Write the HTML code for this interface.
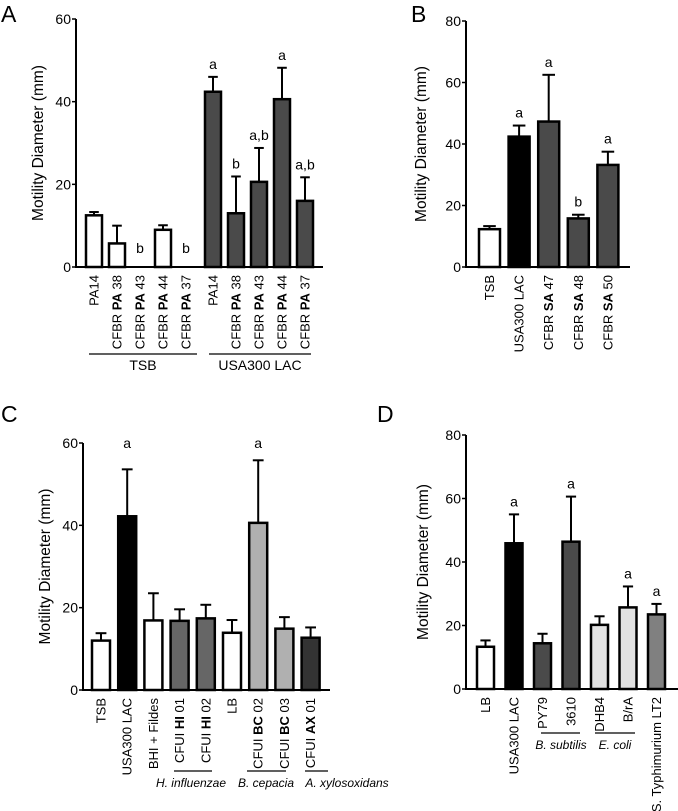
<!DOCTYPE html>
<html><head><meta charset="utf-8"><style>
html,body{margin:0;padding:0;background:#fff;}
svg{display:block;font-family:"Liberation Sans",Arial,sans-serif;}
</style></head><body>
<svg id="fig" width="678" height="811" viewBox="0 0 678 811" xmlns="http://www.w3.org/2000/svg"></svg>
<script>
// ---- Panel A data
const aCategories = [["PA14","",""],["CFBR ","PA"," 38"],["CFBR ","PA"," 43"],["CFBR ","PA"," 44"],["CFBR ","PA"," 37"],["PA14","",""],["CFBR ","PA"," 38"],["CFBR ","PA"," 43"],["CFBR ","PA"," 44"],["CFBR ","PA"," 37"]];
const aValues = [12.5,5.7,0,9,0,42.4,13,20.6,40.6,16];
const aErrors = [0.8,4.3,0,1.1,0,3.6,8.9,8.2,7.6,5.7];
const aLetters = ["","","b","","b","a","b","a,b","a","a,b"];
const aTicks = [0,20,40,60];
// ---- Panel B data
const bCategories = [["TSB","",""],["USA300 LAC","",""],["CFBR ","SA"," 47"],["CFBR ","SA"," 48"],["CFBR ","SA"," 50"]];
const bValues = [12.3,42.4,47.3,15.8,33.2];
const bErrors = [1,3.6,15.2,1.2,4.3];
const bLetters = ["","a","a","b","a"];
const bTicks = [0,20,40,60,80];
// ---- Panel C data
const cCategories = [["TSB","",""],["USA300 LAC","",""],["BHI + Fildes","",""],["CFUI ","HI"," 01"],["CFUI ","HI"," 02"],["LB","",""],["CFUI ","BC"," 02"],["CFUI ","BC"," 03"],["CFUI ","AX"," 01"]];
const cValues = [12,42.2,16.9,16.8,17.4,13.9,40.6,14.9,12.7];
const cErrors = [1.8,11.4,6.6,2.8,3.3,3.1,15.2,2.8,2.5];
const cLetters = ["","a","","","","","a","",""];
const cTicks = [0,20,40,60];
// ---- Panel D data
const dCategories = [["LB","",""],["USA300 LAC","",""],["PY79","",""],["3610","",""],["DHB4","",""],["B/rA","",""],["S. Typhimurium LT2","",""]];
const dValues = [13.3,45.9,14.4,46.4,20.2,25.7,23.5];
const dErrors = [2,9.1,3,14.2,2.7,6.6,3.3];
const dLetters = ["","a","","a","","a","a"];
const dTicks = [0,20,40,60,80];

const NS="http://www.w3.org/2000/svg";
const svg=document.getElementById('fig');
function mk(tag,attrs,parent){const e=document.createElementNS(NS,tag);for(const k in attrs)e.setAttribute(k,attrs[k]);(parent||svg).appendChild(e);return e;}

function panel(o){
  const g=mk('g',{});
  
  
  const ys=v=>o.y0-(v/o.ymax)*(o.y0-o.yTop);
  const xs=i=>o.x0+i*o.step+(o.groupOf?o.groupOf[i]*o.gap:0);
  const L=mk('text',{x:o.lx,y:o.ly,'font-size':23},g);L.textContent=o.id;
   
  const yt=mk('text',{x:0,y:0,'font-size':15.5,'text-anchor':'middle',transform:`translate(${o.tx},${(o.y0+o.yTop)/2}) rotate(-90)`},g);
  yt.textContent='Motility Diameter (mm)';
   
  o.values.forEach((v,i)=>{
    const x=xs(i), y=ys(v), c=x+o.bw/2;
    if(v>0){
      const ey=ys(v+o.errors[i]);
      const el=mk('line',{x1:c,x2:c,y1:y,y2:ey,stroke:'#000','stroke-width':2},g);
       
      const cap=mk('line',{x1:c-o.bw*0.3,x2:c+o.bw*0.3,y1:ey,y2:ey,stroke:'#000','stroke-width':2},g);
       
      const r=mk('rect',{x:x,y:y,width:o.bw,height:o.y0-y,fill:o.colors[i],stroke:'#000','stroke-width':2.5},g);
       
    }
    if(o.letters[i]){
      const ly = o.letterTop ? o.yTop+5 : (v>0? ys(v+o.errors[i])-8 : o.y0-14);
      const t=mk('text',{x:c,y:ly,'font-size':14,'text-anchor':'middle'},g);t.textContent=o.letters[i];
       
    }
    const cat=o.cats[i];
    const t=mk('text',{x:0,y:0,'font-size':13,'text-anchor':'end',transform:`translate(${c+4.5},${o.y0+8}) rotate(-90)`},g);
     
    const s1=mk('tspan',{},t);s1.textContent=cat[0];
    if(cat[1]){const s2=mk('tspan',{'font-weight':'bold'},t);s2.textContent=cat[1];}
    if(cat[2]){const s3=mk('tspan',{},t);s3.textContent=cat[2];}
  });
  const ya=mk('line',{x1:o.xa,x2:o.xa,y1:o.yTop,y2:o.y0+1,stroke:'#000','stroke-width':2},g);
   
  const xa=mk('line',{x1:o.xa,x2:o.xe,y1:o.y0,y2:o.y0,stroke:'#000','stroke-width':2},g);
   
  o.ticks.forEach(tv=>{
    const y=ys(tv);
    mk('line',{x1:o.xa-4,x2:o.xa,y1:y,y2:y,stroke:'#000','stroke-width':1.5},g);
    const t=mk('text',{x:o.xa-5,y:y+5,'font-size':14,'text-anchor':'end'},g);t.textContent=tv;
     
  });
  (o.groups||[]).forEach(gr=>{
    const l=mk('line',{x1:gr[0],x2:gr[1],y1:gr[2],y2:gr[2],stroke:'#000','stroke-width':1.2},g);
     
    const t=mk('text',{x:gr[5]!==undefined?gr[5]:(gr[0]+gr[1])/2,y:gr[2]+16,'font-size':gr[4]?12:14,'text-anchor':'middle','font-style':gr[4]?'italic':'normal'},g);
    t.textContent=gr[3];
     
  });
}
const DK='#4a4a4a';
panel({id:'A',lx:1,ly:22,tx:43,y0:267,yTop:19,ymax:60,xa:76,xe:323,x0:86,step:23,bw:16,gap:4,
  groupOf:[0,0,0,0,0,1,1,1,1,1],cats:aCategories,values:aValues,errors:aErrors,letters:aLetters,ticks:aTicks,
  colors:['#fff','#fff','#fff','#fff','#fff',DK,DK,DK,DK,DK],
  groups:[[89,197,354,'TSB',false],[209,311,354,'USA300 LAC',false]]});
panel({id:'B',lx:411,ly:22,tx:426,y0:267,yTop:21,ymax:80,xa:466,xe:630,x0:479,step:29.6,bw:21,
  cats:bCategories,values:bValues,errors:bErrors,letters:bLetters,ticks:bTicks,
  colors:['#fff','#000',DK,DK,DK]});
panel({id:'C',lx:1,ly:422,tx:50,y0:690,yTop:443,ymax:60,xa:83,xe:330,x0:92,step:26.2,bw:18,
  cats:cCategories,values:cValues,errors:cErrors,letters:cLetters,ticks:cTicks,letterTop:true,
  colors:['#fff','#000','#fff','#666','#666','#fff','#b0b0b0','#b0b0b0','#333'],
  groups:[[174,212,771,'H. influenzae',true,191],[247,286,771,'B. cepacia',true,266],[305,328,771,'A. xylosoxidans',true,347]]});
panel({id:'D',lx:377,ly:422,tx:428,y0:689,yTop:435,ymax:80,xa:466,xe:678,x0:477,step:28.5,bw:17,
  cats:dCategories,values:dValues,errors:dErrors,letters:dLetters,ticks:dTicks,
  colors:['#fff','#000',DK,DK,'#e2e2e2','#e2e2e2','#808080'],
  groups:[[541,580,733,'B. subtilis',true,561],[595,635,733,'E. coli',true,615]]});
</script>
</body></html>
